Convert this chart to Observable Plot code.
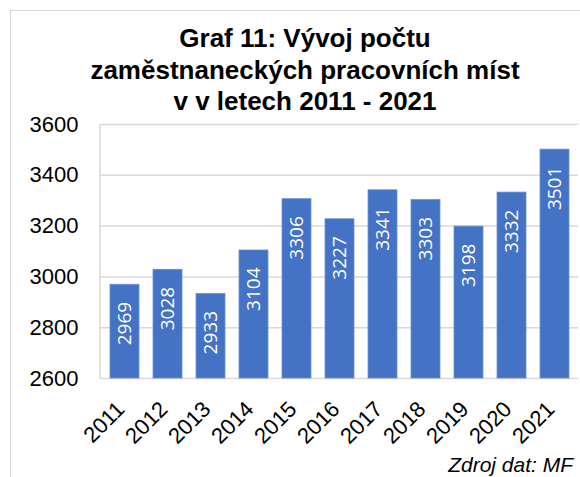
<!DOCTYPE html>
<html>
<head>
<meta charset="utf-8">
<script src="https://cdn.jsdelivr.net/npm/d3@7"></script>
<script src="https://cdn.jsdelivr.net/npm/@observablehq/plot@0.6"></script>
<style>
  html, body { margin: 0; padding: 0; background: #fff; }
  #wrap { position: relative; width: 580px; height: 477px; overflow: hidden; background: #fff; font-family: "Liberation Sans", Arial, sans-serif; }
  #frame { position: absolute; left: 10px; top: 10px; width: 620px; height: 520px; border: 1.5px solid #d9d9d9; box-sizing: border-box; }
  #title { position: absolute; left: 30px; top: 23px; width: 550px; text-align: center; font-weight: bold; font-size: 26px; line-height: 31.5px; color: #000; }
  #chart { position: absolute; left: 0; top: 100px; }
  #caption { position: absolute; right: 7px; top: 455px; font-style: italic; font-size: 21px; line-height: 20px; color: #000; }
</style>
</head>
<body>
<div id="wrap">
  <div id="frame"></div>
  <div id="title">Graf 11: Vývoj počtu<br>zaměstnaneckých pracovních míst<br>v v letech 2011 - 2021</div>
  <div id="chart"></div>
  <div id="caption">Zdroj dat: MF</div>
</div>
<script>
const years = ["2011","2012","2013","2014","2015","2016","2017","2018","2019","2020","2021"];
const values = [2969, 3028, 2933, 3104, 3306, 3227, 3341, 3303, 3198, 3332, 3501];
const yTicks = [2600, 2800, 3000, 3200, 3400, 3600];

const data = years.map((year, i) => ({year, value: values[i]}));
const yMin = yTicks[0];

const leftLine = (index, scales, values, dimensions) => {
  const ns = "http://www.w3.org/2000/svg";
  const l = document.createElementNS(ns, "line");
  l.setAttribute("x1", dimensions.marginLeft);
  l.setAttribute("x2", dimensions.marginLeft);
  l.setAttribute("y1", dimensions.marginTop);
  l.setAttribute("y2", dimensions.height - dimensions.marginBottom);
  l.setAttribute("stroke", "#d9d9d9");
  l.setAttribute("stroke-width", "1.5");
  return l;
};

const chart = Plot.plot({
  width: 580,
  height: 358,
  marginTop: 24,
  marginBottom: 80,
  marginLeft: 100,
  marginRight: 2,
  style: {fontFamily: "'Liberation Sans', Arial, sans-serif", fontSize: "22px", color: "#000", background: "transparent"},
  x: {domain: years, paddingInner: 0.333, paddingOuter: 0.1667, axis: null},
  y: {domain: [yTicks[0], yTicks[yTicks.length - 1]], ticks: yTicks, tickSize: 0, tickPadding: 22, label: null, tickFormat: d => String(d)},
  marks: [
    Plot.ruleY(yTicks, {stroke: "#d9d9d9", strokeWidth: 1.5}),
    leftLine,
    Plot.barY(data, {x: "year", y1: yMin, y2: "value", fill: "#4472c4", stroke: "#6f92d4", strokeWidth: 0.8}),
    Plot.text(data, {x: "year", y: "value", text: d => String(d.value), rotate: -90, textAnchor: "end", dy: 17, fill: "white", fontSize: 19, fontFamily: "'Open Sans', sans-serif"}),
    Plot.text(data, {x: "year", y: yMin, text: "year", rotate: -45, textAnchor: "end", dx: -4, dy: 27, fill: "#000", fontSize: 22})
  ]
});
document.getElementById("chart").appendChild(chart);
</script>
</body>
</html>
